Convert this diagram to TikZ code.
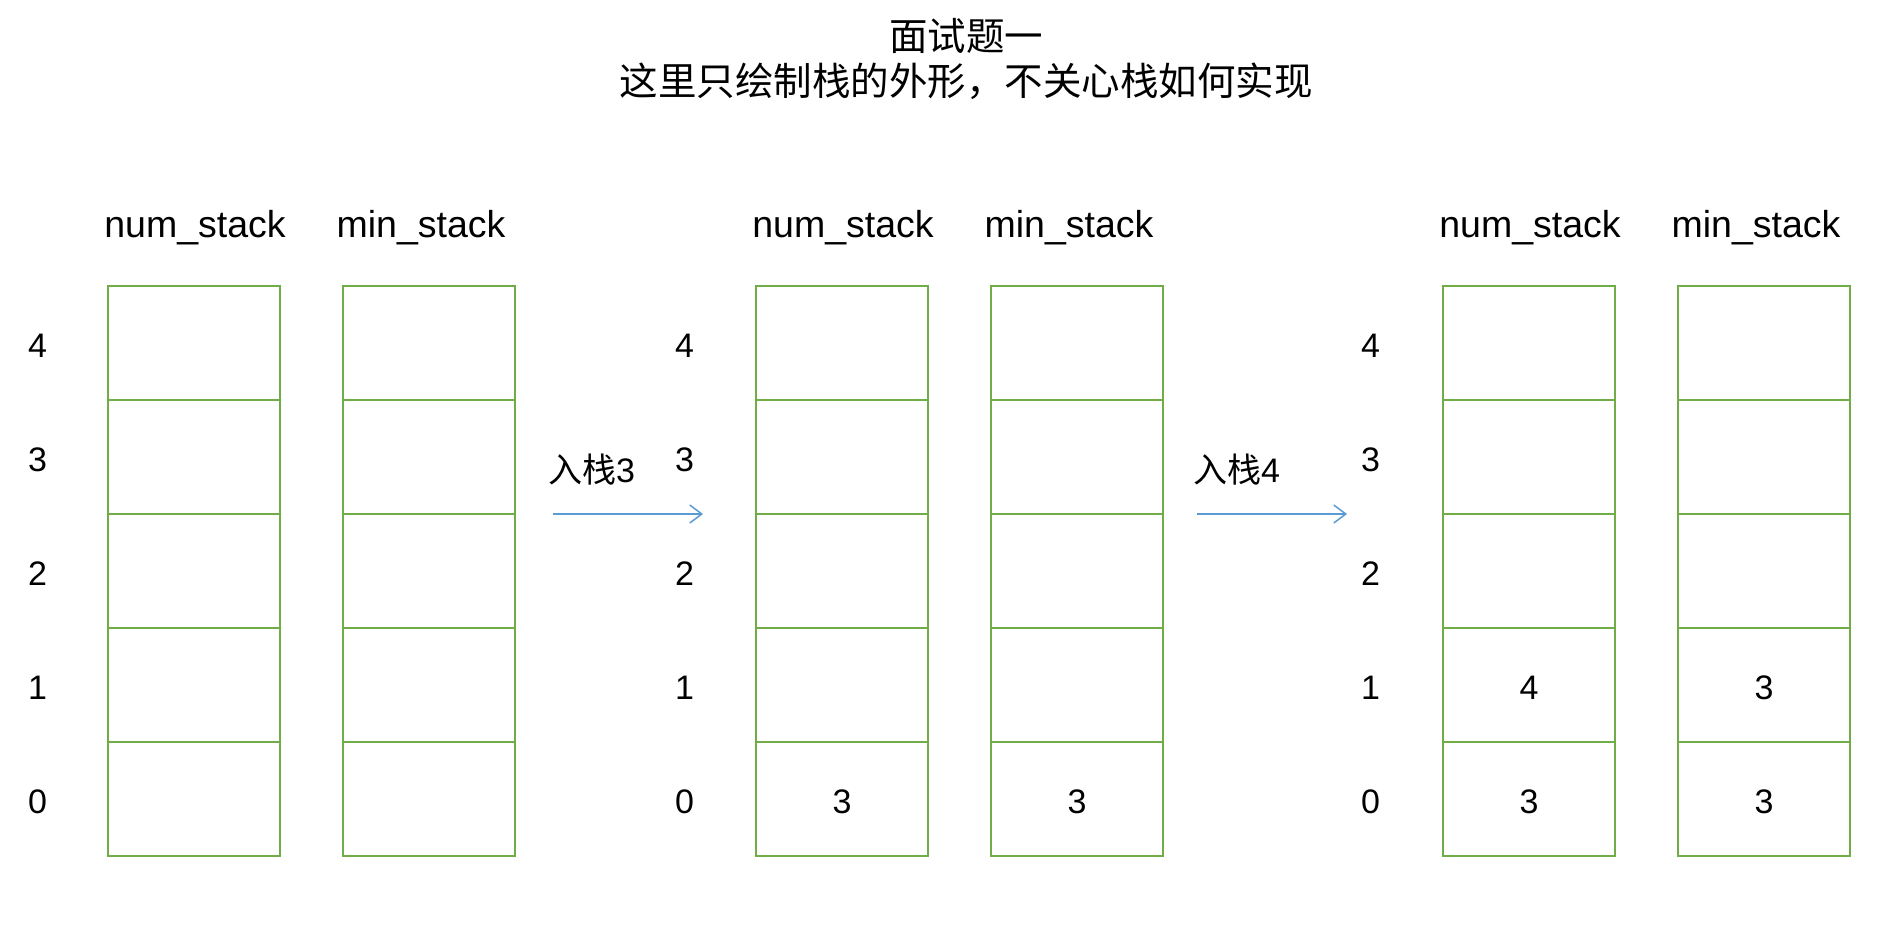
\documentclass[tikz,border=0pt]{standalone}
\usepackage{fontspec}
\setmainfont{Liberation Sans}
\newfontfamily\cjk{Noto Sans CJK SC}
\usetikzlibrary{arrows.meta}
\definecolor{cellgreen}{RGB}{112,173,71}
\definecolor{arrowblue}{RGB}{91,155,213}
\begin{document}
\begin{tikzpicture}[x=1pt,y=-1pt,
  cell/.style={draw=cellgreen, line width=2pt, minimum width=172pt, minimum height=114pt, inner sep=0pt},
  head/.style={inner sep=0pt, font=\fontsize{37.5}{37.5}\selectfont},
  idx/.style={inner sep=0pt, font=\fontsize{34}{34}\selectfont},
  title/.style={inner sep=0pt, font=\cjk\fontsize{38.5}{38.5}\selectfont},
  lbl/.style={inner sep=0pt, anchor=west, font=\fontsize{34}{34}\selectfont},
  push/.style={draw=arrowblue, line width=1.5pt, -{Straight Barb[length=12pt,width=18pt,line width=1.5pt]}}]
\useasboundingbox[fill=white] (0,0) rectangle (1900,926);
% title
\node[title] (t1) at (966,36) {面试题一};
\node[title] (t2) at (966,81) {这里只绘制栈的外形，不关心栈如何实现};
% stacks
\foreach \s/\cx in {1/194,2/429,3/842,4/1077,5/1529,6/1764}{
  \foreach \r in {0,...,4}{
    \node[cell] (c\s-\r) at (\cx,{343+(4-\r)*114}) {};
  }
}
% headers
\foreach \s/\cx/\t in {1/195/num\_stack,2/421/min\_stack,3/843/num\_stack,4/1069/min\_stack,5/1530/num\_stack,6/1756/min\_stack}{
  \node[head] (h\s) at (\cx,228) {\t};
}
% index labels
\foreach \g/\ix in {1/37.6,2/684.6,3/1370.5}{
  \foreach \r in {0,...,4}{
    \node[idx] (i\g-\r) at (\ix,{346+(4-\r)*114}) {\r};
  }
}
% values
\node[idx] (v3-0) at ([yshift=-3pt]c3-0.center) {3};
\node[idx] (v4-0) at ([yshift=-3pt]c4-0.center) {3};
\node[idx] (v5-0) at ([yshift=-3pt]c5-0.center) {3};
\node[idx] (v5-1) at ([yshift=-3pt]c5-1.center) {4};
\node[idx] (v6-0) at ([yshift=-3pt]c6-0.center) {3};
\node[idx] (v6-1) at ([yshift=-3pt]c6-1.center) {3};
% arrows
\coordinate (a1s) at (553,514);
\coordinate (a1e) at (703,514);
\coordinate (a2s) at (1197,514);
\coordinate (a2e) at (1347,514);
\draw[push] (a1s) -- (a1e);
\draw[push] (a2s) -- (a2e);
\node[lbl] (l1) at (548,470) {{\cjk 入栈}3};
\node[lbl] (l2) at (1193,470) {{\cjk 入栈}4};
\end{tikzpicture}
\end{document}
